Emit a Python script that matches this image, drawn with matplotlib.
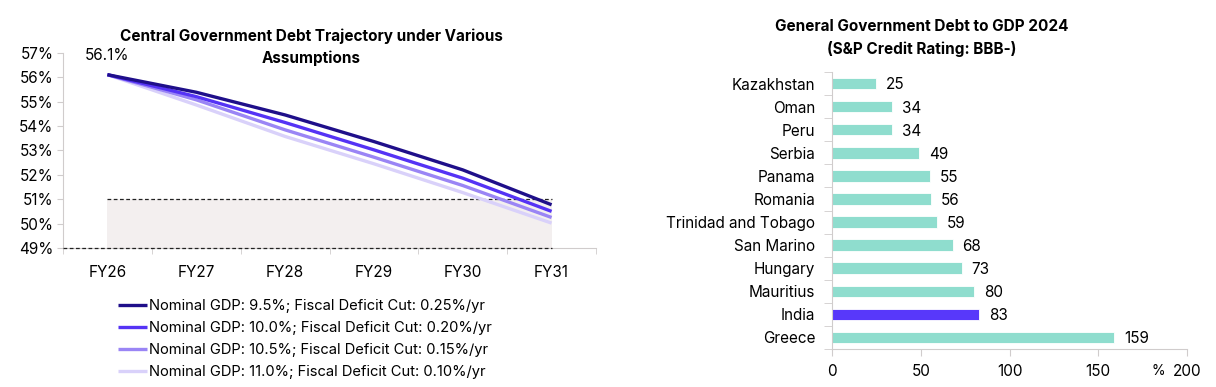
import numpy as np
import matplotlib
matplotlib.use("Agg")
from matplotlib import pyplot as plt

plt.rcParams['font.family'] = ['Inter', 'DejaVu Sans']

# left chart data
years = ['FY26', 'FY27', 'FY28', 'FY29', 'FY30', 'FY31']
debt_a = [56.1, 55.38, 54.45, 53.36, 52.2, 50.77]
debt_b = [56.1, 55.2, 54.14, 53.02, 51.86, 50.5]
debt_c = [56.1, 55.07, 53.84, 52.72, 51.56, 50.25]
debt_d = [56.1, 54.86, 53.57, 52.45, 51.27, 50.02]
scenario_labels = [
    'Nominal GDP: 9.5%; Fiscal Deficit Cut: 0.25%/yr',
    'Nominal GDP: 10.0%; Fiscal Deficit Cut: 0.20%/yr',
    'Nominal GDP: 10.5%; Fiscal Deficit Cut: 0.15%/yr',
    'Nominal GDP: 11.0%; Fiscal Deficit Cut: 0.10%/yr',
]
band_low = 49
band_high = 51

# right chart data
countries = ['Kazakhstan', 'Oman', 'Peru', 'Serbia', 'Panama', 'Romania',
             'Trinidad and Tobago', 'San Marino', 'Hungary', 'Mauritius',
             'India', 'Greece']
debt_gdp = [25, 34, 34, 49, 55, 56, 59, 68, 73, 80, 83, 159]

line_colors = ['#1f0f8a', '#5533f5', '#9a85f5', '#d9d1fa']
axis_gray = '#d0cccc'
teal = '#8fddce'
india_col = '#5838fa'

W, H = 1216, 387
fig = plt.figure(figsize=(W / 100, H / 100), dpi=100)

# ---- left: debt trajectory ----
ax = fig.add_axes([63 / W, 1 - 248 / H, (596 - 63) / W, (248 - 52.7) / H])
x = np.arange(len(years))
ax.fill_between(x, band_low, band_high, color='#f3efef', lw=0, zorder=1)
ax.plot(x, [band_high] * len(x), ls=(0, (3, 2)), color='#222222', lw=0.9, zorder=2)
ax.plot([-0.5, x[-1]], [band_low, band_low], ls=(0, (3, 2)), color='#222222',
        lw=0.9, zorder=3, clip_on=False)
series = [debt_a, debt_b, debt_c, debt_d]
for s, c, lab, z in zip(series, line_colors, scenario_labels, [6, 5, 4, 3]):
    ax.plot(x, s, color=c, lw=2.4, label=lab, zorder=z, solid_capstyle='butt')
ax.annotate(f'{debt_a[0]:.1f}%', (x[0], debt_a[0]), xytext=(0, 14),
            textcoords='offset points', ha='center', va='center', fontsize=11)

ax.set_xlim(-0.5, len(years) - 0.5)
ax.set_ylim(49, 57)
ax.set_yticks(np.arange(49, 58))
ax.set_yticklabels([f'{v}%' for v in range(49, 58)], fontsize=11)
ax.set_xticks(x)
ax.set_xticklabels(years, fontsize=11)
ax.set_xticks(np.arange(-0.5, len(years)), minor=True)
ax.tick_params(axis='x', which='major', length=0, pad=12)
ax.tick_params(axis='x', which='minor', length=4, color=axis_gray)
ax.tick_params(axis='y', length=4, color=axis_gray, pad=3)
for sp in ['top', 'right']:
    ax.spines[sp].set_visible(False)
for sp in ['left', 'bottom']:
    ax.spines[sp].set_color(axis_gray)
# title in two pieces so line 2 sits clear of the 56.1% label
fig.text(311 / W, 1 - 36 / H, 'Central Government Debt Trajectory under Various',
         ha='center', va='center', fontsize=11, fontweight='bold')
fig.text(311 / W, 1 - 58 / H, 'Assumptions',
         ha='center', va='center', fontsize=11, fontweight='bold')
ax.legend(loc='upper left', bbox_to_anchor=(112 / W, 1 - 293 / H),
          bbox_transform=fig.transFigure, frameon=False, fontsize=10.6,
          handlelength=2.0, handletextpad=0.1, labelspacing=0.55,
          borderaxespad=0)

# ---- right: debt to GDP bars ----
bx = fig.add_axes([832 / W, 1 - 349 / H, (1187 - 832) / W, (349 - 72) / H])
yp = np.arange(len(countries))
cols = [india_col if c == 'India' else teal for c in countries]
bars = bx.barh(yp, debt_gdp, height=0.5, color=cols, edgecolor='white', lw=0.6)
for b, v in zip(bars, debt_gdp):
    bx.annotate(str(v), (v, b.get_y() + b.get_height() / 2), xytext=(7, -1),
                textcoords='offset points', ha='left', va='center', fontsize=11)
bx.set_ylim(len(countries) - 0.5, -0.5)
bx.set_xlim(0, 200)
bx.set_yticks(yp)
bx.set_yticklabels(countries, fontsize=11)
bx.set_yticks(np.arange(-0.5, len(countries)), minor=True)
bx.tick_params(axis='y', which='major', length=0, pad=12)
bx.tick_params(axis='y', which='minor', length=6, color=axis_gray)
bx.set_xticks([0, 50, 100, 150, 200])
bx.tick_params(axis='x', length=5, color=axis_gray, pad=6, labelsize=11)
for sp in ['top', 'right']:
    bx.spines[sp].set_visible(False)
for sp in ['left', 'bottom']:
    bx.spines[sp].set_color(axis_gray)
fig.text(1158 / W, 1 - 371 / H, '%', ha='center', va='center', fontsize=10)
fig.text(922 / W, 1 - 38 / H,
         'General Government Debt to GDP 2024\n(S&P Credit Rating: BBB-)',
         ha='center', va='center', fontsize=11, fontweight='bold',
         linespacing=1.5)

fig.savefig('out.png', dpi=100)
